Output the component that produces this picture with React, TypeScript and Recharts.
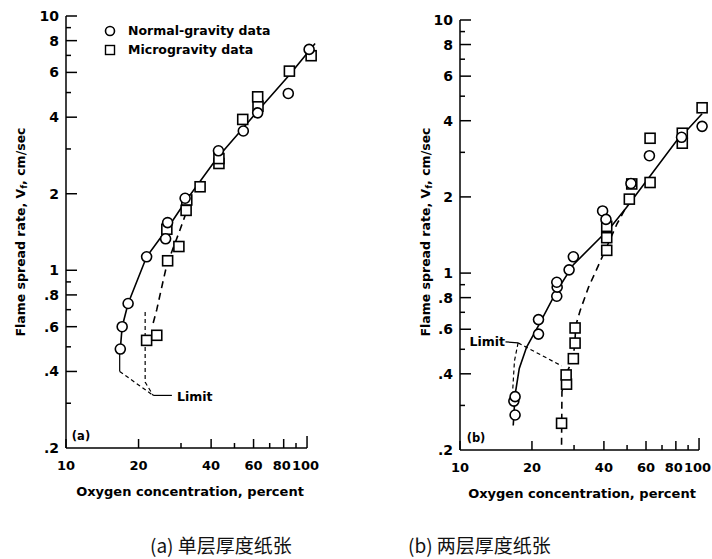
import React from "react";
import {
  ComposedChart,
  Scatter,
  Line,
  XAxis,
  YAxis,
  ReferenceLine,
  Legend,
} from "recharts";

// axis ticks
const xTicks = [10, 20, 30, 40, 50, 60, 70, 80, 90, 100];
const xTickLabels = ["10", "20", "", "40", "", "60", "", "80", "", "100"];
const yTicks = [0.2, 0.3, 0.4, 0.5, 0.6, 0.7, 0.8, 0.9, 1, 2, 3, 4, 5, 6, 7, 8, 9, 10];
const yTickLabels = [".2", "", ".4", "", ".6", "", ".8", "", "1", "2", "", "4", "", "6", "", "8", "", "10"];

// (a) single thickness paper
const normalA = [
  { x: 16.8, y: 0.49 }, { x: 17.1, y: 0.6 }, { x: 18.1, y: 0.74 }, { x: 21.6, y: 1.13 },
  { x: 25.9, y: 1.33 }, { x: 26.4, y: 1.54 }, { x: 31.2, y: 1.92 }, { x: 42.9, y: 2.95 },
  { x: 54.4, y: 3.53 }, { x: 62.4, y: 4.16 }, { x: 83.6, y: 4.96 }, { x: 102, y: 7.39 },
];
const microA = [
  { x: 21.6, y: 0.53 }, { x: 23.8, y: 0.555 }, { x: 26.4, y: 1.09 }, { x: 29.4, y: 1.24 },
  { x: 26.2, y: 1.45 }, { x: 31.5, y: 1.72 }, { x: 31.7, y: 1.89 }, { x: 36.0, y: 2.13 },
  { x: 43.1, y: 2.63 }, { x: 43.1, y: 2.75 }, { x: 54.1, y: 3.92 }, { x: 62.6, y: 4.42 },
  { x: 62.4, y: 4.81 }, { x: 84.5, y: 6.07 }, { x: 104, y: 6.98 },
];
const fitNormalA = [
  { x: 16.8, y: 0.49 }, { x: 17.1, y: 0.6 }, { x: 18.1, y: 0.74 }, { x: 21.6, y: 1.13 },
  { x: 26.6, y: 1.48 }, { x: 31.5, y: 1.88 }, { x: 42.2, y: 2.75 }, { x: 54, y: 3.6 },
  { x: 62, y: 4.2 }, { x: 85, y: 5.9 }, { x: 108, y: 7.8 },
];
const fitMicroA = [
  { x: 23.0, y: 0.62 }, { x: 23.8, y: 0.7 }, { x: 25.3, y: 0.91 }, { x: 26.2, y: 1.05 },
  { x: 29.7, y: 1.44 }, { x: 31.4, y: 1.67 }, { x: 33, y: 1.92 },
];
const limitA1 = [{ x: 16.7, y: 0.47 }, { x: 16.7, y: 0.4 }];
const limitA2 = [{ x: 16.7, y: 0.4 }, { x: 23.0, y: 0.322 }];
const limitA3 = [{ x: 21.3, y: 0.685 }, { x: 21.3, y: 0.363 }, { x: 23.0, y: 0.322 }];
const limitA4 = [{ x: 23.0, y: 0.322 }, { x: 27.5, y: 0.322 }];

// (b) double thickness paper
const normalB = [
  { x: 17.0, y: 0.275 }, { x: 16.8, y: 0.312 }, { x: 17.0, y: 0.325 }, { x: 21.3, y: 0.574 },
  { x: 21.3, y: 0.655 }, { x: 25.4, y: 0.81 }, { x: 25.5, y: 0.88 }, { x: 25.4, y: 0.92 },
  { x: 28.6, y: 1.03 }, { x: 29.8, y: 1.16 }, { x: 39.5, y: 1.76 }, { x: 40.8, y: 1.63 },
  { x: 51.9, y: 2.26 }, { x: 62.0, y: 2.91 }, { x: 84.5, y: 3.44 }, { x: 103, y: 3.8 },
];
const microB = [
  { x: 26.6, y: 0.255 }, { x: 27.9, y: 0.364 }, { x: 27.8, y: 0.396 }, { x: 29.8, y: 0.459 },
  { x: 30.3, y: 0.529 }, { x: 30.3, y: 0.607 }, { x: 41.1, y: 1.23 }, { x: 41.1, y: 1.38 },
  { x: 41.1, y: 1.53 }, { x: 51.1, y: 1.96 }, { x: 52.3, y: 2.25 }, { x: 62.4, y: 2.28 },
  { x: 62.4, y: 3.41 }, { x: 85.1, y: 3.26 }, { x: 85.1, y: 3.57 }, { x: 103, y: 4.5 },
];
const fitNormalB = [
  { x: 16.7, y: 0.25 }, { x: 17.0, y: 0.33 }, { x: 17.7, y: 0.42 }, { x: 19.0, y: 0.51 },
  { x: 21.3, y: 0.62 }, { x: 25.4, y: 0.85 }, { x: 29.8, y: 1.08 }, { x: 42.5, y: 1.51 },
  { x: 49.8, y: 1.82 }, { x: 80.7, y: 3.34 }, { x: 90.2, y: 3.72 }, { x: 103, y: 4.26 },
];
const fitMicroB = [
  { x: 26.6, y: 0.21 }, { x: 26.7, y: 0.34 }, { x: 27.8, y: 0.4 }, { x: 29.8, y: 0.46 },
  { x: 30.3, y: 0.55 }, { x: 30.5, y: 0.62 }, { x: 31.8, y: 0.71 }, { x: 34.5, y: 0.88 },
  { x: 37.9, y: 1.07 }, { x: 45.3, y: 1.56 }, { x: 50, y: 1.85 },
];
const limitB1 = [{ x: 15.5, y: 0.535 }, { x: 17.5, y: 0.53 }];
const limitB2 = [{ x: 17.5, y: 0.53 }, { x: 16.9, y: 0.45 }, { x: 16.6, y: 0.34 }];
const limitB3 = [{ x: 17.5, y: 0.53 }, { x: 26.6, y: 0.43 }];

const legendItems = [
  { name: "Normal-gravity data", shape: "circle" },
  { name: "Microgravity data", shape: "square" },
];

const FONT = "'DejaVu Sans', sans-serif";

const Circle = (props: any) => (
  <circle cx={props.cx} cy={props.cy} r={5} fill="#fff" stroke="#000" strokeWidth={1.6} />
);
const Square = (props: any) => (
  <rect x={props.cx - 5} y={props.cy - 5} width={10} height={10} fill="#fff" stroke="#000" strokeWidth={1.6} />
);

const XTick = (props: any) => {
  const { x, y, payload } = props;
  const label = xTickLabels[xTicks.indexOf(payload.value)];
  const last = payload.value === 100;
  const len = last ? 12 : label ? 9 : 5;
  // "80" and "100" sit tight together, as in the print
  const tx = last ? x + 12 : payload.value === 80 ? x - 2 : x;
  return (
    <g>
      <line x1={x} y1={y} x2={x} y2={y - len} stroke="#000" strokeWidth={1.5} />
      {label ? (
        <text x={tx} y={y + 17} textAnchor={last ? "end" : "middle"} dominantBaseline="central"
          fontFamily={FONT} fontWeight="bold" fontSize={13} fill="#000">{label}</text>
      ) : null}
    </g>
  );
};

const YTick = (props: any) => {
  const { x, y, payload } = props;
  const label = yTickLabels[yTicks.indexOf(payload.value)];
  const len = label ? 11 : 5;
  return (
    <g>
      {payload.value !== 0.2 ? (
        <line x1={x} y1={y} x2={x + len} y2={y} stroke="#000" strokeWidth={1.5} />
      ) : null}
      {label ? (
        <text x={x - 7} y={y} textAnchor="end" dominantBaseline="central"
          fontFamily={FONT} fontWeight="bold" fontSize={14} fill="#000">{label}</text>
      ) : null}
    </g>
  );
};

const LegendBox = () => (
  <div style={{ fontFamily: FONT, fontWeight: "bold", fontSize: 12.5 }}>
    {legendItems.map((item) => (
      <div key={item.name} style={{ display: "flex", alignItems: "center", height: 19 }}>
        <svg width={12} height={12} style={{ marginRight: 12 }}>
          {item.shape === "circle" ? (
            <circle cx={6} cy={6} r={4.5} fill="#fff" stroke="#000" strokeWidth={1.6} />
          ) : (
            <rect x={1.5} y={1.5} width={9} height={9} fill="#fff" stroke="#000" strokeWidth={1.4} />
          )}
        </svg>
        <span>{item.name}</span>
      </div>
    ))}
  </div>
);

function YTitle({ x, y }: { x: number; y: number }) {
  return (
    <text transform={`translate(${x},${y}) rotate(-90)`} textAnchor="middle" dominantBaseline="central"
      fontFamily={FONT} fontWeight="bold" fontSize={12.5} fill="#000">
      Flame spread rate, V<tspan fontSize={9} dy={4}>f</tspan>
      <tspan dy={-4}>, cm/sec</tspan>
    </text>
  );
}

const lineProps = {
  dataKey: "y",
  stroke: "#000",
  dot: false,
  activeDot: false,
  isAnimationActive: false,
  type: "linear" as const,
};

interface PanelProps {
  tag: string;
  normal: { x: number; y: number }[];
  micro: { x: number; y: number }[];
  fitNormal: { x: number; y: number }[];
  fitMicro: { x: number; y: number }[];
  solidLeaders: { x: number; y: number }[][];
  dashedLeaders: { x: number; y: number }[][];
  width: number;
  axisWidth: number;
  margin: { top: number; right: number; bottom: number; left: number };
  titleX: number;
  xTitleX: number;
  xTitleY: number;
  tagPos: [number, number];
  limitPos: [number, number, "start" | "end"];
  showLegend?: boolean;
}

function Panel(p: PanelProps) {
  return (
    <ComposedChart width={p.width} height={520} margin={p.margin}>
      <XAxis
        dataKey="x"
        type="number"
        scale="log"
        domain={[10, 112]}
        allowDataOverflow
        ticks={xTicks}
        interval={0}
        height={50}
        axisLine={false}
        tickLine={false}
        tickSize={0}
        tickMargin={0}
        tick={<XTick />}
      />
      <YAxis
        dataKey="y"
        type="number"
        scale="log"
        domain={[0.2, 10]}
        allowDataOverflow
        ticks={yTicks}
        interval={0}
        width={p.axisWidth}
        axisLine={{ stroke: "#000", strokeWidth: 1.5 }}
        tickLine={false}
        tickSize={0}
        tickMargin={0}
        tick={<YTick />}
      />
      <ReferenceLine
        segment={[{ x: 10, y: 0.2 }, { x: 100, y: 0.2 }]}
        stroke="#000"
        strokeWidth={1.5}
      />
      {p.solidLeaders.map((d, i) => (
        <Line key={`sl${i}`} data={d} {...lineProps} strokeWidth={1.2} />
      ))}
      {p.dashedLeaders.map((d, i) => (
        <Line key={`dl${i}`} data={d} {...lineProps} strokeWidth={1.2} strokeDasharray="4 3" />
      ))}
      <Line data={p.fitNormal} {...lineProps} strokeWidth={1.6} />
      <Line data={p.fitMicro} {...lineProps} strokeWidth={1.6} strokeDasharray="7 5" />
      <Scatter data={p.micro} shape={<Square />} isAnimationActive={false} />
      <Scatter data={p.normal} shape={<Circle />} isAnimationActive={false} />
      {p.showLegend ? (
        <Legend
          layout="vertical"
          align="center"
          verticalAlign="middle"
          content={<LegendBox />}
          wrapperStyle={{ top: 21, left: 104, width: "auto" }}
        />
      ) : null}
      <YTitle x={p.titleX} y={232} />
      <text x={p.xTitleX} y={p.xTitleY} textAnchor="middle" dominantBaseline="central"
        fontFamily={FONT} fontWeight="bold" fontSize={13} fill="#000">
        Oxygen concentration, percent
      </text>
      <text x={p.tagPos[0]} y={p.tagPos[1]} textAnchor="middle" dominantBaseline="central"
        fontFamily={FONT} fontWeight="bold" fontSize={11.5} fill="#000">
        {p.tag}
      </text>
      <text x={p.limitPos[0]} y={p.limitPos[1]} textAnchor={p.limitPos[2]} dominantBaseline="central"
        fontFamily={FONT} fontWeight="bold" fontSize={12.5} fill="#000">
        Limit
      </text>
    </ComposedChart>
  );
}

const captionStyle: React.CSSProperties = {
  position: "absolute",
  top: 534,
  fontFamily: "'Noto Sans CJK SC', sans-serif",
  fontSize: 19,
  lineHeight: "22px",
  whiteSpace: "nowrap",
  color: "#111",
};

export default function App() {
  return (
    <div style={{ position: "absolute", left: 0, top: 0, width: 712, height: 559, background: "#fff" }}>
      <div style={{ position: "absolute", left: 0, top: 0 }}>
        <Panel
          tag="(a)"
          normal={normalA}
          micro={microA}
          fitNormal={fitNormalA}
          fitMicro={fitMicroA}
          solidLeaders={[limitA1, limitA4]}
          dashedLeaders={[limitA2, limitA3]}
          width={356}
          axisWidth={66}
          margin={{ top: 16, right: 37.1, bottom: 22, left: 0 }}
          titleX={20}
          xTitleX={190}
          xTitleY={491}
          tagPos={[81, 436]}
          limitPos={[177, 396, "start"]}
          showLegend
        />
      </div>
      <div style={{ position: "absolute", left: 360, top: 0 }}>
        <Panel
          tag="(b)"
          normal={normalB}
          micro={microB}
          fitNormal={fitNormalB}
          fitMicro={fitMicroB}
          solidLeaders={[limitB1]}
          dashedLeaders={[limitB2, limitB3]}
          width={352}
          axisWidth={100}
          margin={{ top: 20, right: 1.2, bottom: 20, left: 0 }}
          titleX={65}
          xTitleX={222}
          xTitleY={493}
          tagPos={[116, 438]}
          limitPos={[145, 341, "end"]}
        />
      </div>
      <div style={{ ...captionStyle, left: 150 }}>(a) 单层厚度纸张</div>
      <div style={{ ...captionStyle, left: 408 }}>(b) 两层厚度纸张</div>
    </div>
  );
}
